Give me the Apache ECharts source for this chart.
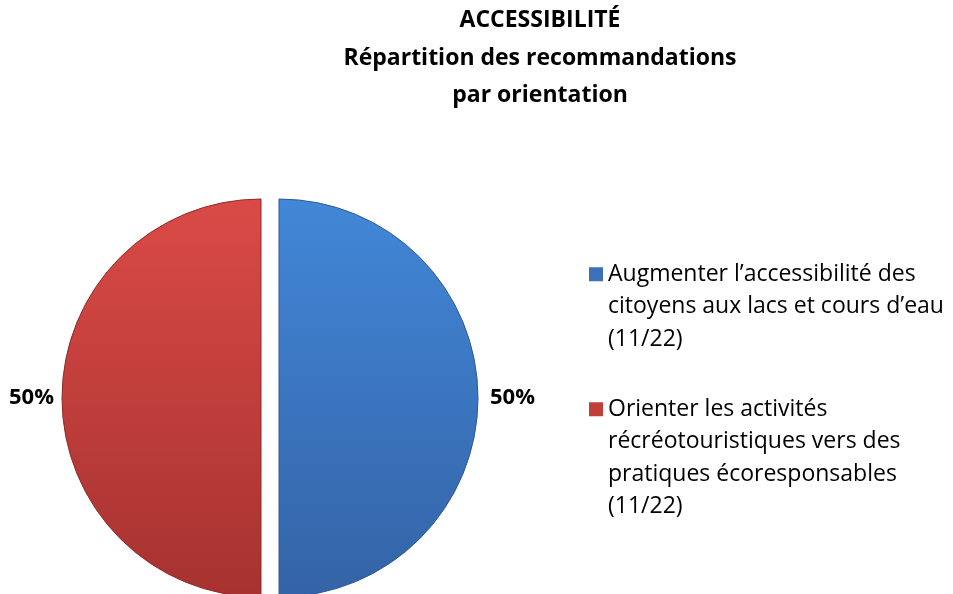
<!DOCTYPE html>
<html>
<head>
<meta charset="utf-8">
<script src="https://cdn.jsdelivr.net/npm/echarts@6/dist/echarts.min.js"></script>
<style>
  html, body { margin: 0; padding: 0; background: #fff; }
  #chart { width: 953px; height: 594px; }
</style>
</head>
<body>
<div id="chart"></div>
<script>
// data
var titleLines = ['ACCESSIBILITÉ', 'Répartition des recommandations', 'par orientation']
var categories = [
  'Augmenter l\u2019accessibilité des citoyens aux lacs et cours d\u2019eau (11/22)',
  'Orienter les activités récréotouristiques vers des pratiques écoresponsables (11/22)'
]
// how each legend entry is wrapped on screen
var legendLines = [
  ['Augmenter l\u2019accessibilité des', 'citoyens aux lacs et cours d\u2019eau', '(11/22)'],
  ['Orienter les activités', 'récréotouristiques vers des', 'pratiques écoresponsables', '(11/22)']
]
var values = [11, 11]
var colors = [
  ['#4287d8', '#3463a6', '#2f5a94', '#3d70b8'],
  ['#da4a46', '#a63230', '#8e2b29', '#c23e3b']
]

var font = 'Open Sans'
var lineH = 32.5
var box = 14

function grad(c) {
  return new echarts.graphic.LinearGradient(0, 0, 0, 1, [
    { offset: 0, color: c[0] },
    { offset: 1, color: c[1] }
  ])
}

// legend text is centred on the icon, so the icon is a square sitting at the
// top of a tall invisible box: that keeps it level with the first line
function makeLegend(i, top) {
  var n = legendLines[i].length
  var h = box + lineH * (n - 1)
  return {
    left: 589,
    top: top,
    padding: 0,
    orient: 'vertical',
    itemWidth: box,
    itemHeight: h,
    icon: 'path://M0,0L' + box + ',0L' + box + ',' + box + 'L0,' + box + 'Z M0,' + h + 'L' + box + ',' + h,
    itemStyle: { borderWidth: 0 },
    selectedMode: false,
    data: [{ name: categories[i], itemStyle: { color: colors[i][3], borderWidth: 0 } }],
    formatter: function () { return legendLines[i].join('\n') },
    textStyle: {
      fontFamily: font,
      fontSize: 23,
      color: '#000',
      lineHeight: lineH
    }
  }
}

var chart = echarts.init(document.getElementById('chart'))
chart.setOption({
  backgroundColor: '#fff',
  animation: false,
  title: {
    text: titleLines.join('\n'),
    left: 540,
    top: 2,
    padding: 0,
    textAlign: 'center',
    textStyle: {
      fontFamily: font,
      fontWeight: 'bold',
      fontSize: 23,
      lineHeight: 37.5,
      color: '#000'
    }
  },
  legend: [makeLegend(0, 258), makeLegend(1, 393)],
  series: [{
    type: 'pie',
    center: [270, 398],
    radius: 199,
    startAngle: 90,
    clockwise: true,
    selectedMode: 'multiple',
    selectedOffset: 9,
    silent: true,
    label: {
      show: true,
      position: 'outside',
      formatter: '{d}%',
      fontFamily: font,
      fontWeight: 'bold',
      fontSize: 22,
      color: '#000',
      distanceToLabelLine: 0
    },
    labelLine: { show: false, length: 12, length2: 0 },
    data: values.map(function (v, i) {
      return {
        name: categories[i],
        value: v,
        selected: true,
        labelLine: { show: false, length: i === 0 ? 12 : 8, length2: 0 },
        itemStyle: {
          color: grad(colors[i]),
          borderColor: colors[i][2],
          borderWidth: 1
        }
      }
    })
  }]
})
</script>
</body>
</html>
